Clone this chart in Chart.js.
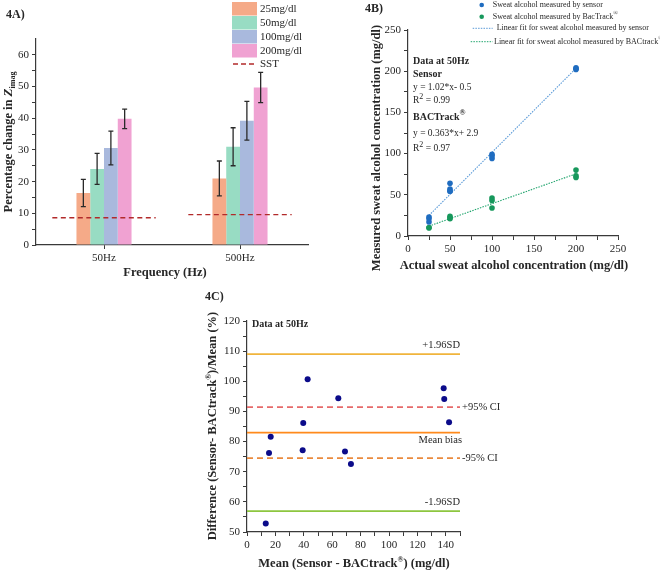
<!DOCTYPE html>
<html>
<head>
<meta charset="utf-8">
<script src="https://cdn.jsdelivr.net/npm/chart.js@4.4.1/dist/chart.umd.min.js"></script>
<style>
	body { margin: 0; background: #fff; }
	#wrap { position: relative; width: 660px; height: 572px; }
	canvas { position: absolute; }
</style>
</head>
<body>
<div id="wrap">
	<canvas id="chartA" width="330" height="290" style="left:0;top:0"></canvas>
	<canvas id="chartB" width="330" height="290" style="left:330px;top:0"></canvas>
	<canvas id="chartC" width="360" height="282" style="left:150px;top:290px"></canvas>
</div>
<script>
// ---- 4A data ----
const frequencies = ["50Hz", "500Hz"];
const concentrations = ["25mg/dl", "50mg/dl", "100mg/dl", "200mg/dl"];
const change25 = [16.4, 21.0];
const change50 = [24.0, 31.0];
const change100 = [30.6, 39.2];
const change200 = [39.8, 49.7];
const err25 = [4.3, 5.5];
const err50 = [4.9, 6.0];
const err100 = [5.3, 6.1];
const err200 = [3.1, 4.8];
const sstValues = [8.6, 9.6];

// ---- 4B data ----
const sensorX = [25, 25, 25, 50, 50, 50, 50, 100, 100, 100, 200, 200, 200];
const sensorY = [23, 21, 17, 64, 57, 55, 54, 99, 97, 94, 204, 203, 202];
const bactrackX = [25, 25, 50, 50, 50, 100, 100, 100, 200, 200, 200];
const bactrackY = [10, 10, 24, 22, 21, 46, 43, 34, 80, 73, 71];
const fitX = [25, 200];
const sensorFitY = [25, 203.5];
const bactrackFitY = [12, 75.5];

// ---- 4C data ----
const meanVals = [13.2, 15.5, 16.7, 39.2, 39.6, 42.7, 64.3, 69.0, 73.2, 138.5, 138.9, 142.3];
const diffPct = [52.8, 76.2, 81.6, 77.1, 86.2, 100.7, 94.4, 76.7, 72.6, 97.7, 94.1, 86.4];
const refNames = ["+1.96SD", "+95% CI", "Mean bias", "-95% CI", "-1.96SD"];
const refLevels = [109.0, 91.4, 83.0, 74.5, 56.9];

// ---- styles ----
const SERIF = "'Liberation Serif', 'Times New Roman', serif";
const AXIS = "#3a3a3a";
const TEXT = "#262626";
const barColors = ["#f5aa88", "#98dcc3", "#a9b9dd", "#f0a2d2"];
const sstColor = "#b22a2a";
const sensorColor = "#1f6cc0";
const bactrackColor = "#17985c";
const refColors = ["#f0b43c", "#e66a6a", "#ff8a1c", "#ea8a3e", "#8dc63f"];
const refDashes = [[], [6, 4], [], [6, 4], []];
const refPlace = ["above", "right", "below", "right", "above"];

const font = (size, weight = "normal", style = "normal") => `${style} ${weight} ${size}px ${SERIF}`;

// Draw a run of text parts (for sub/superscripts, italics)
const drawRich = (ctx, parts, x, y, align = "left", rotate = 0) => {
	ctx.save();
	ctx.translate(x, y);
	if (rotate) ctx.rotate(rotate);
	ctx.textBaseline = "middle";
	ctx.textAlign = "left";
	ctx.fillStyle = TEXT;
	const widths = parts.map((p) => {
		ctx.font = p.font;
		return ctx.measureText(p.text).width;
	});
	const total = widths.reduce((a, b) => a + b, 0);
	let cx = align === "center" ? -total / 2 : align === "right" ? -total : 0;
	parts.forEach((p, i) => {
		ctx.font = p.font;
		ctx.fillText(p.text, cx, p.dy || 0);
		cx += widths[i];
	});
	ctx.restore();
};

// Linear axis with minor ticks unlabeled
const linearAxis = (min, max, step, labelEvery, axis, fitSize) => ({
	type: "linear",
	min,
	max,
	border: { display: true, color: AXIS, width: 1.2 },
	grid: { drawOnChartArea: false, tickLength: 4, tickColor: AXIS, tickWidth: 1 },
	ticks: {
		stepSize: step,
		autoSkip: false,
		maxRotation: 0,
		padding: 3,
		color: TEXT,
		font: { family: SERIF, size: 11 },
		callback: (v) => (v % labelEvery === 0 ? v : ""),
	},
	afterFit: (s) => {
		if (axis === "x") s.height = fitSize;
		else s.width = fitSize;
	},
});

const baseOptions = (padding) => ({
	responsive: false,
	animation: false,
	events: [],
	layout: { padding },
	plugins: { legend: { display: false }, tooltip: { enabled: false } },
});

// ---------------- 4A ----------------
const changeSeries = [change25, change50, change100, change200];
const errorSeries = [err25, err50, err100, err200];

// SST dashed segments and error bars, placed with the chart's scales
const overlayA = {
	id: "overlayA",
	afterDatasetsDraw(chart) {
		const ctx = chart.ctx;
		const { x, y } = chart.scales;
		const catWidth = x.getPixelForValue(1) - x.getPixelForValue(0);
		ctx.save();
		ctx.strokeStyle = sstColor;
		ctx.lineWidth = 1.3;
		ctx.setLineDash([5, 3.5]);
		sstValues.forEach((v, i) => {
			const cx = x.getPixelForValue(i);
			const py = y.getPixelForValue(v);
			ctx.beginPath();
			ctx.moveTo(cx - 0.38 * catWidth, py);
			ctx.lineTo(cx + 0.38 * catWidth, py);
			ctx.stroke();
		});
		ctx.setLineDash([]);
		ctx.strokeStyle = "#2a2a2a";
		changeSeries.forEach((series, i) => {
			chart.getDatasetMeta(i).data.forEach((bar, j) => {
				const top = y.getPixelForValue(series[j] + errorSeries[i][j]);
				const bot = y.getPixelForValue(series[j] - errorSeries[i][j]);
				ctx.beginPath();
				ctx.moveTo(bar.x, top);
				ctx.lineTo(bar.x, bot);
				ctx.moveTo(bar.x - 2.5, top);
				ctx.lineTo(bar.x + 2.5, top);
				ctx.moveTo(bar.x - 2.5, bot);
				ctx.lineTo(bar.x + 2.5, bot);
				ctx.stroke();
			});
		});
		ctx.restore();
	},
};

const textsA = {
	id: "textsA",
	afterDraw(chart) {
		const ctx = chart.ctx;
		// legend
		concentrations.forEach((label, i) => {
			ctx.fillStyle = barColors[i];
			ctx.fillRect(232, 2 + 14 * i, 25, 13.5);
			drawRich(ctx, [{ text: label, font: font(11) }], 260, 9 + 14 * i);
		});
		ctx.save();
		ctx.strokeStyle = sstColor;
		ctx.lineWidth = 1.3;
		ctx.setLineDash([5, 3]);
		ctx.beginPath();
		ctx.moveTo(233, 64);
		ctx.lineTo(254, 64);
		ctx.stroke();
		ctx.restore();
		drawRich(ctx, [{ text: "SST", font: font(11) }], 260, 64);
		// titles
		drawRich(ctx, [{ text: "4A)", font: font(12, "bold") }], 6, 15);
		drawRich(ctx, [{ text: "Frequency (Hz)", font: font(12.5, "bold") }], 165, 273, "center");
		drawRich(
			ctx,
			[
				{ text: "Percentage change in ", font: font(12.5, "bold") },
				{ text: "Z", font: font(13, "bold", "italic") },
				{ text: "imag", font: font(8, "bold"), dy: 3.5 },
			],
			9,
			142,
			"center",
			-Math.PI / 2
		);
	},
};

const initChartA = () => {
	const ctx = document.getElementById("chartA");
	const datasets = concentrations.map((label, i) => ({
		label,
		data: changeSeries[i],
		backgroundColor: barColors[i],
		borderWidth: 0,
		barPercentage: 1,
		categoryPercentage: 0.405,
	}));
	const yAxis = linearAxis(0, 65, 5, 10, "y", 36);
	yAxis.grid.tickColor = (c) => (c.tick && c.tick.value === 65 ? "rgba(0,0,0,0)" : AXIS);
	new Chart(ctx, {
		type: "bar",
		data: { labels: frequencies, datasets },
		options: {
			...baseOptions({ top: 39, right: 22, left: 0, bottom: 0 }),
			scales: {
				x: {
					type: "category",
					offset: true,
					stacked: false,
					border: { display: true, color: AXIS, width: 1.2 },
					grid: { drawOnChartArea: false, offset: false, tickLength: 4, tickColor: AXIS },
					ticks: { padding: 3, color: TEXT, font: { family: SERIF, size: 11 } },
					afterFit: (s) => (s.height = 45),
				},
				y: yAxis,
			},
		},
		plugins: [overlayA, textsA],
	});
};

// ---------------- 4B ----------------
const textsB = {
	id: "textsB",
	afterDraw(chart) {
		const ctx = chart.ctx;
		const lf = font(8);
		// legend
		[sensorColor, bactrackColor].forEach((c, i) => {
			ctx.fillStyle = c;
			ctx.beginPath();
			ctx.arc(151.7, 5 + 11.7 * i, 2.3, 0, Math.PI * 2);
			ctx.fill();
		});
		drawRich(ctx, [{ text: "Sweat alcohol measured by sensor", font: lf }], 162.7, 5);
		drawRich(
			ctx,
			[
				{ text: "Sweat alcohol measured by BacTrack", font: lf },
				{ text: "®", font: font(6), dy: -3 },
			],
			162.7,
			16.7
		);
		[
			["#5a9ad8", 142.7, 28.3],
			["#22a56e", 140.7, 41.7],
		].forEach(([c, x0, y0]) => {
			ctx.save();
			ctx.strokeStyle = c;
			ctx.lineWidth = 1;
			ctx.setLineDash([1.5, 1.2]);
			ctx.beginPath();
			ctx.moveTo(x0, y0);
			ctx.lineTo(162.7, y0);
			ctx.stroke();
			ctx.restore();
		});
		drawRich(ctx, [{ text: "Linear fit for sweat alcohol measured by sensor", font: lf }], 166.7, 28.3);
		drawRich(
			ctx,
			[
				{ text: "Linear fit for sweat alcohol measured by BACtrack", font: lf },
				{ text: "®", font: font(6), dy: -3 },
			],
			164,
			41.7
		);
		// annotation block
		const bf = font(10, "bold");
		const rf = font(9.5);
		drawRich(ctx, [{ text: "Data at 50Hz", font: bf }], 83, 61.7);
		drawRich(ctx, [{ text: "Sensor", font: bf }], 83, 74);
		drawRich(ctx, [{ text: "y = 1.02*x- 0.5", font: rf }], 83, 87);
		drawRich(
			ctx,
			[
				{ text: "R", font: rf },
				{ text: "2", font: font(8), dy: -3 },
				{ text: " = 0.99", font: rf },
			],
			83,
			100
		);
		drawRich(
			ctx,
			[
				{ text: "BACTrack", font: bf },
				{ text: "®", font: font(8, "bold"), dy: -4 },
			],
			83,
			117
		);
		drawRich(ctx, [{ text: "y = 0.363*x+ 2.9", font: rf }], 83, 133);
		drawRich(
			ctx,
			[
				{ text: "R", font: rf },
				{ text: "2", font: font(8), dy: -3 },
				{ text: " = 0.97", font: rf },
			],
			83,
			148
		);
		// titles
		drawRich(ctx, [{ text: "4B)", font: font(12, "bold") }], 35, 8.5);
		drawRich(ctx, [{ text: "Actual sweat alcohol concentration (mg/dl)", font: font(12.5, "bold") }], 184, 266, "center");
		drawRich(
			ctx,
			[{ text: "Measured sweat alcohol concentration (mg/dl)", font: font(12.5, "bold") }],
			47,
			148,
			"center",
			-Math.PI / 2
		);
	},
};

const initChartB = () => {
	const ctx = document.getElementById("chartB");
	const toPoints = (xs, ys) => xs.map((x, i) => ({ x, y: ys[i] }));
	new Chart(ctx, {
		type: "scatter",
		data: {
			datasets: [
				{
					label: "Sweat alcohol measured by sensor",
					data: toPoints(sensorX, sensorY),
					backgroundColor: sensorColor,
					borderWidth: 0,
					pointRadius: 2.8,
				},
				{
					label: "Sweat alcohol measured by BacTrack",
					data: toPoints(bactrackX, bactrackY),
					backgroundColor: bactrackColor,
					borderWidth: 0,
					pointRadius: 2.8,
				},
				{
					type: "line",
					label: "Linear fit sensor",
					data: toPoints(fitX, sensorFitY),
					borderColor: "#5a9ad8",
					borderWidth: 1.1,
					borderDash: [1.5, 1.2],
					pointRadius: 0,
				},
				{
					type: "line",
					label: "Linear fit BACtrack",
					data: toPoints(fitX, bactrackFitY),
					borderColor: "#22a56e",
					borderWidth: 1.1,
					borderDash: [1.5, 1.2],
					pointRadius: 0,
				},
			],
		},
		options: {
			...baseOptions({ top: 30, right: 42, left: 0, bottom: 0 }),
			scales: {
				x: linearAxis(0, 250, 25, 50, "x", 54),
				y: linearAxis(0, 250, 25, 50, "y", 78),
			},
		},
		plugins: [textsB],
	});
};

// ---------------- 4C ----------------
const textsC = {
	id: "textsC",
	afterDraw(chart) {
		const ctx = chart.ctx;
		const y = chart.scales.y;
		const right = chart.chartArea.right;
		refNames.forEach((name, i) => {
			const py = y.getPixelForValue(refLevels[i]);
			const f = [{ text: name, font: font(10.5) }];
			if (refPlace[i] === "above") drawRich(ctx, f, right, py - 9, "right");
			else if (refPlace[i] === "below") drawRich(ctx, f, right + 2, py + 8, "right");
			else drawRich(ctx, f, right + 2, py, "left");
		});
		drawRich(ctx, [{ text: "Data at 50Hz", font: font(10, "bold") }], 102, 34);
		drawRich(ctx, [{ text: "4C)", font: font(12, "bold") }], 55, 7);
		drawRich(
			ctx,
			[
				{ text: "Mean (Sensor - BACtrack", font: font(12.5, "bold") },
				{ text: "®", font: font(8, "bold"), dy: -4 },
				{ text: ") (mg/dl)", font: font(12.5, "bold") },
			],
			204,
			274,
			"center"
		);
		drawRich(
			ctx,
			[
				{ text: "Difference (Sensor- BACtrack", font: font(12.5, "bold") },
				{ text: "®", font: font(8, "bold"), dy: -4 },
				{ text: ")/Mean (%)", font: font(12.5, "bold") },
			],
			63,
			136,
			"center",
			-Math.PI / 2
		);
	},
};

const initChartC = () => {
	const ctx = document.getElementById("chartC");
	const datasets = [
		{
			label: "Difference",
			data: meanVals.map((x, i) => ({ x, y: diffPct[i] })),
			backgroundColor: "#0b0b8a",
			borderWidth: 0,
			pointRadius: 3,
			order: 0,
		},
	];
	refLevels.forEach((lvl, i) => {
		datasets.push({
			type: "line",
			label: refNames[i],
			data: [
				{ x: 0, y: lvl },
				{ x: 150, y: lvl },
			],
			borderColor: refColors[i],
			borderWidth: 1.8,
			borderDash: refDashes[i],
			pointRadius: 0,
			order: 1,
		});
	});
	new Chart(ctx, {
		type: "scatter",
		data: { datasets },
		options: {
			...baseOptions({ top: 31, right: 50, left: 0, bottom: 0 }),
			scales: {
				x: linearAxis(0, 150, 10, 20, "x", 40),
				y: linearAxis(50, 120, 5, 10, "y", 97),
			},
		},
		plugins: [textsC],
	});
};

document.addEventListener("DOMContentLoaded", () => {
	initChartA();
	initChartB();
	initChartC();
});
</script>
</body>
</html>
